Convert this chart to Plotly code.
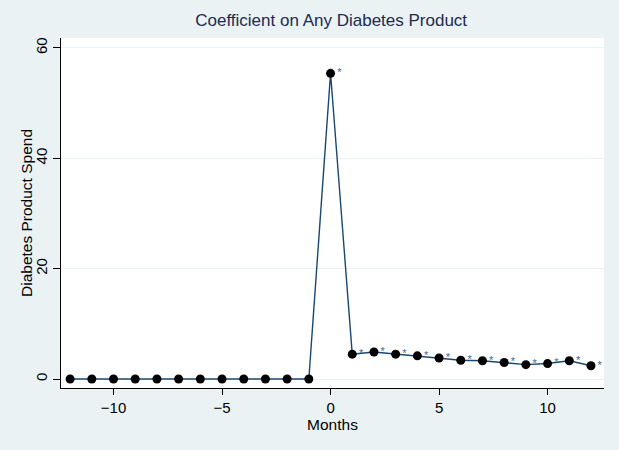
import plotly.graph_objects as go

months = list(range(-12, 13))
coef = [0, 0, 0, 0, 0, 0, 0, 0, 0, 0, 0, 0,
        55.4, 4.5, 4.9, 4.5, 4.2, 3.8, 3.4, 3.3, 3.0, 2.6, 2.8, 3.3, 2.4]
sig = ["", "", "", "", "", "", "", "", "", "", "", "",
       "*", "*", "*", "*", "*", "*", "*", "*", "*", "*", "*", "*", "*"]
y_ticks = [0, 20, 40, 60]
x_ticks = [-10, -5, 0, 5, 10]

navy = "#1a476f"
bg = "#eaf2f3"
font = "Liberation Sans, Arial, sans-serif"

fig = go.Figure()
fig.add_trace(go.Scatter(
    x=months, y=coef, mode="lines+markers+text",
    line=dict(color=navy, width=1.4),
    marker=dict(color="black", size=9),
    text=sig, textposition="middle right",
    textfont=dict(color="#3a6a99", size=11, family=font),
    showlegend=False, cliponaxis=False,
))

fig.update_layout(
    width=619, height=450,
    margin=dict(l=61, r=15, t=38, b=62),
    paper_bgcolor=bg, plot_bgcolor="white",
    font=dict(family=font, size=15, color="black"),
    title=dict(text="Coefficient on Any Diabetes Product", x=0.535, xanchor="center",
               y=0.955, yanchor="middle",
               font=dict(size=17, color="#1e2a50", family=font)),
    annotations=[dict(text="Diabetes Product Spend", xref="paper", yref="paper",
                      x=0, y=0.5, xshift=-35, textangle=-90, showarrow=False,
                      xanchor="center", yanchor="middle",
                      font=dict(size=15.5, color="black", family=font))],
)
fig.update_xaxes(
    range=[-12.42, 12.6], tickvals=x_ticks, showgrid=False, zeroline=False,
    showline=True, linecolor="black", linewidth=1,
    ticks="outside", ticklen=6, tickcolor="black",
    title=dict(text="Months", standoff=0, font=dict(size=15.5)),
    tickfont=dict(size=15), automargin=False,
)
fig.update_yaxes(
    range=[-1.63, 61.8], tickvals=y_ticks, showgrid=True, gridcolor=bg, gridwidth=1,
    zeroline=False, showline=True, linecolor="black", linewidth=1,
    ticks="outside", ticklen=7, tickcolor="black", tickangle=-90,
    tickfont=dict(size=15), automargin=False,
)

fig.write_html("out.html", config={"displayModeBar": False},
               post_script="document.body.style.margin='0';")
